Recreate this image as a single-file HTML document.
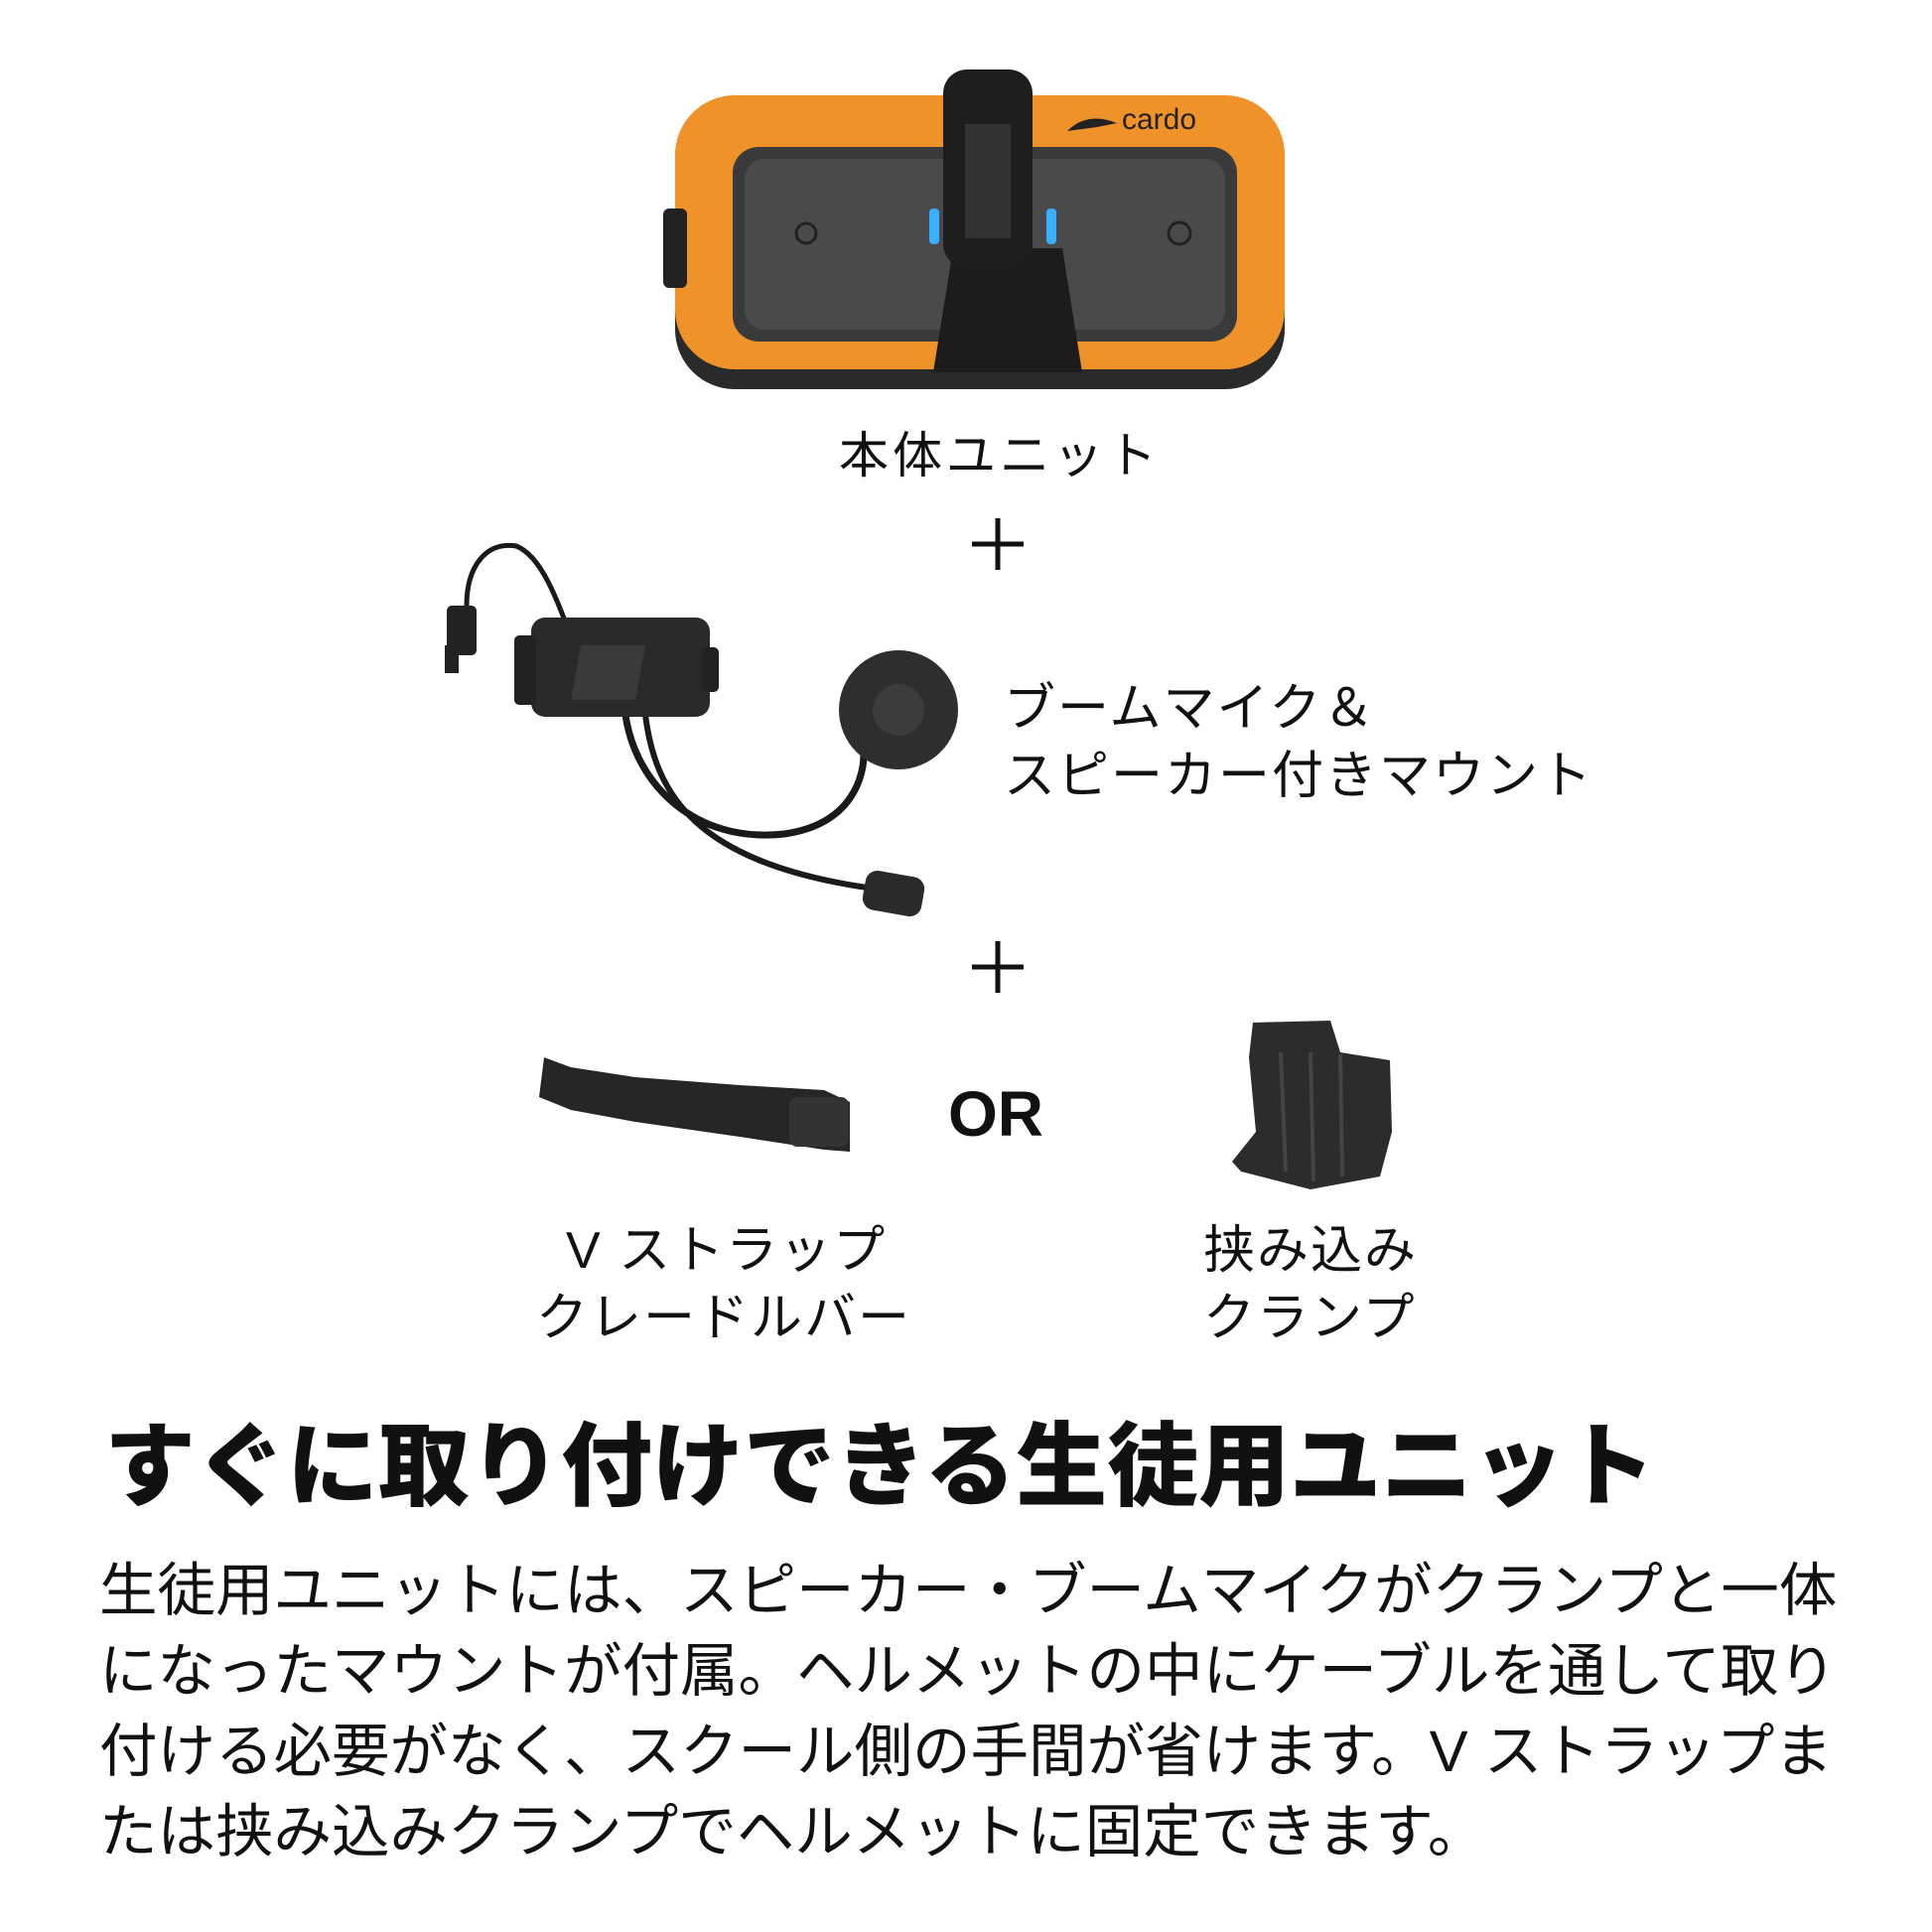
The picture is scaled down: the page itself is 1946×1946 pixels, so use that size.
<!DOCTYPE html>
<html><head><meta charset="utf-8"><style>
body{margin:0;width:1946px;height:1946px;background:#fff;position:relative;overflow:hidden;font-family:"Liberation Sans","Noto Sans CJK JP",sans-serif;color:#111}
.t{position:absolute;white-space:nowrap;line-height:1}
</style></head><body>
<svg width="1946" height="1946" style="position:absolute;left:0;top:0">
<!-- main unit -->
<rect x="680" y="100" width="614" height="292" rx="60" fill="#2a2a2a"/>
<rect x="680" y="96" width="614" height="276" rx="60" fill="#f0922a"/>
<rect x="738" y="148" width="508" height="196" rx="26" fill="#3a3a3c"/>
<rect x="750" y="160" width="484" height="172" rx="20" fill="#4a4a4d"/>
<rect x="668" y="210" width="24" height="80" rx="6" fill="#222"/>
<path d="M960 250 L1070 250 L1090 375 L940 375 Z" fill="#1c1c1c"/>
<rect x="950" y="70" width="90" height="200" rx="24" fill="#1e1e1e"/>
<rect x="972" y="125" width="46" height="115" fill="#333"/>
<rect x="936" y="210" width="10" height="36" rx="4" fill="#3bb0ff"/>
<rect x="1054" y="210" width="10" height="36" rx="4" fill="#3bb0ff"/>
<text x="1130" y="130" font-size="30" fill="#222" font-family="Liberation Sans">cardo</text>
<path d="M1075 132 q20 -20 50 -8 l-20 4 z" fill="#222"/>
<circle cx="812" cy="235" r="10" fill="none" stroke="#222" stroke-width="3"/>
<circle cx="1188" cy="235" r="11" fill="none" stroke="#222" stroke-width="3"/>
<!-- mount -->
<path d="M580 655 C560 600 545 560 520 550 C490 545 470 570 470 610" stroke="#1a1a1a" stroke-width="5" fill="none"/>
<rect x="450" y="610" width="30" height="50" rx="5" fill="#222"/>
<rect x="448" y="650" width="14" height="28" fill="#222"/>
<path d="M630 720 C640 790 700 850 790 840 C860 830 870 780 870 760" stroke="#1a1a1a" stroke-width="7" fill="none"/>
<path d="M650 720 C660 800 700 870 880 895" stroke="#1a1a1a" stroke-width="6" fill="none"/>
<rect x="870" y="880" width="60" height="40" rx="12" fill="#2a2a2a" transform="rotate(10 900 900)"/>
<rect x="535" y="622" width="180" height="100" rx="14" fill="#2a2a2a"/>
<rect x="518" y="640" width="22" height="70" rx="5" fill="#222"/>
<rect x="706" y="652" width="18" height="45" rx="5" fill="#222"/>
<path d="M585 650 L650 650 L640 705 L575 705 Z" fill="#3a3a3a"/>
<circle cx="905" cy="715" r="60" fill="#2e2e2e"/>
<circle cx="905" cy="715" r="26" fill="#3c3c3c"/>
<!-- V strap -->
<path d="M548 1065 L575 1075 L640 1085 L745 1093 L830 1098 L856 1110 L856 1160 L830 1158 L745 1145 L640 1130 L575 1118 L543 1105 Z" fill="#262626"/>
<rect x="795" y="1105" width="60" height="50" rx="8" fill="#333"/>
<!-- clamp -->
<path d="M1262 1030 L1340 1028 L1350 1060 L1400 1068 L1402 1140 L1390 1185 L1320 1198 L1250 1180 L1241 1170 L1265 1140 L1258 1065 Z" fill="#2c2c2c"/>
<path d="M1290 1060 L1295 1180 M1320 1060 L1323 1190 M1350 1062 L1352 1185" stroke="#444" stroke-width="4"/>
<!-- plus signs -->
<path d="M1005 522 V574 M979 548 H1031 M1005 948 V1000 M979 974 H1031" stroke="#111" stroke-width="5"/>
</svg>
<div class="t" style="left:845px;top:434px;font-size:50px;letter-spacing:4px">本体ユニット</div>
<div class="t" style="left:1011px;top:688px;font-size:52px;letter-spacing:2px">ブームマイク＆</div>
<div class="t" style="left:1011px;top:756px;font-size:52px;letter-spacing:2px">スピーカー付きマウント</div>
<div class="t" style="left:955px;top:1090px;font-size:64px;font-weight:bold">OR</div>
<div class="t" style="left:570px;top:1234px;font-size:52px;letter-spacing:2px">V ストラップ</div>
<div class="t" style="left:540px;top:1302px;font-size:52px;letter-spacing:2px">クレードルバー</div>
<div class="t" style="left:1212px;top:1234px;font-size:52px;letter-spacing:2px">挟み込み</div>
<div class="t" style="left:1212px;top:1302px;font-size:52px;letter-spacing:2px">クランプ</div>
<div class="t" style="left:105px;top:1432px;font-size:92px;font-weight:900;letter-spacing:0">すぐに取り付けできる生徒用ユニット</div>
<div class="t" style="left:100px;top:1562px;font-size:58.5px;line-height:81px;white-space:nowrap">生徒用ユニットには、スピーカー・ブームマイクがクランプと一体<br>になったマウントが付属。ヘルメットの中にケーブルを通して取り<br>付ける必要がなく、スクール側の手間が省けます。V ストラップま<br>たは挟み込みクランプでヘルメットに固定できます。</div>
</body></html>
